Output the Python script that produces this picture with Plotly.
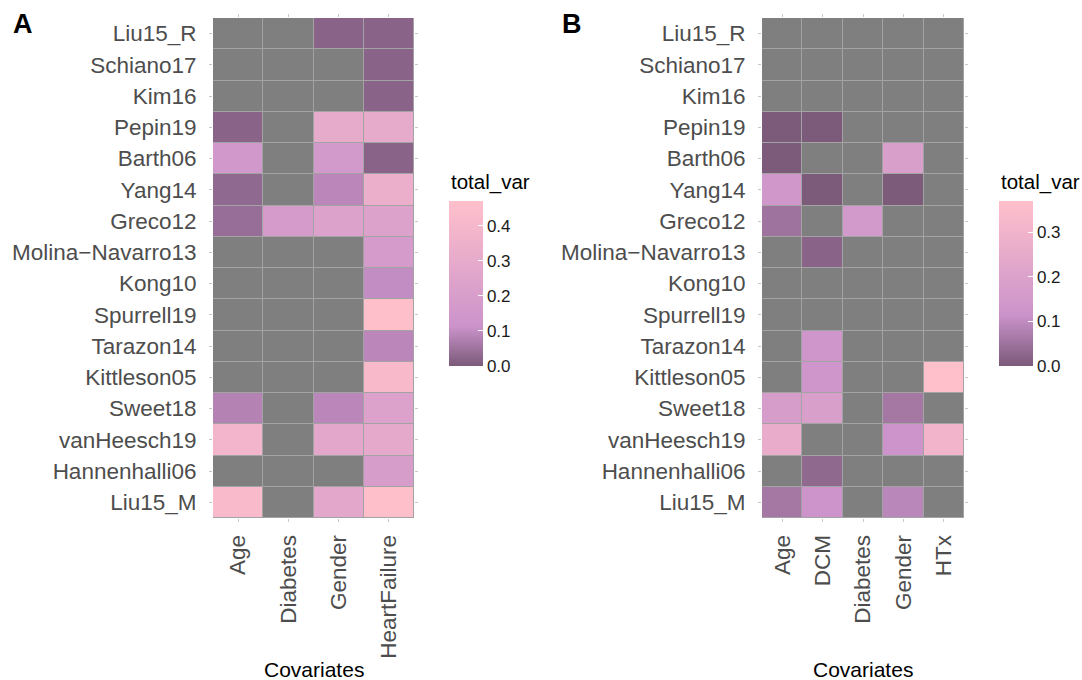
import plotly.graph_objects as go

studies = ["Liu15_R", "Schiano17", "Kim16", "Pepin19", "Barth06", "Yang14", "Greco12",
           "Molina\u2212Navarro13", "Kong10", "Spurrell19", "Tarazon14", "Kittleson05",
           "Sweet18", "vanHeesch19", "Hannenhalli06", "Liu15_M"]

covariates_a = ["Age", "Diabetes", "Gender", "HeartFailure"]
covariates_b = ["Age", "DCM", "Diabetes", "Gender", "HTx"]

N = None
# Panel A values (rows = studies, cols = covariates_a)
values_a = [
    [N, N, 0.02, 0.02],
    [N, N, N, 0.02],
    [N, N, N, 0.02],
    [0.02, N, 0.30, 0.30],
    [0.15, N, 0.16, 0.02],
    [0.03, N, 0.09, 0.33],
    [0.04, 0.18, 0.23, 0.23],
    [N, N, N, 0.18],
    [N, N, N, 0.10],
    [N, N, N, 0.46],
    [N, N, N, 0.09],
    [N, N, N, 0.42],
    [0.08, N, 0.09, 0.23],
    [0.38, N, 0.27, 0.29],
    [N, N, N, 0.19],
    [0.43, N, 0.27, 0.46],
]

# Panel B values (rows = studies, cols = covariates_b)
values_b = [
    [N, N, N, N, N],
    [N, N, N, N, N],
    [N, N, N, N, N],
    [0.0, 0.0, N, N, N],
    [0.0, N, N, 0.18, N],
    [0.14, 0.0, N, 0.0, N],
    [0.05, N, 0.15, N, N],
    [N, 0.02, N, N, N],
    [N, N, N, N, N],
    [N, N, N, N, N],
    [N, 0.13, N, N, N],
    [N, 0.13, N, N, 0.37],
    [0.17, 0.18, N, 0.06, N],
    [0.26, N, N, 0.12, 0.30],
    [N, 0.03, N, N, N],
    [0.06, 0.12, N, 0.09, N],
]

zmax_a = 0.47
zmax_b = 0.37
ticks_a = [0.0, 0.1, 0.2, 0.3, 0.4]
ticks_b = [0.0, 0.1, 0.2, 0.3]

scale_a = [[0, "#7b5a7a"], [0.24, "#cb93cb"], [1, "#ffc0cb"]]
scale_b = [[0, "#7b5a7a"], [0.31, "#cb93cb"], [1, "#ffc0cb"]]

FONT = "Liberation Sans, Arial, Helvetica, sans-serif"
NA_COLOR = "#7f7f7f"
LINE_COLOR = "#a3a3a3"

fig = go.Figure()


def mask(vals):
    return [[1 if v is None else None for v in row] for row in vals]


def add_panel(vals, cols, zmax, scale, tickvals, xa, ya, cb_x):
    fig.add_trace(go.Heatmap(
        z=mask(vals), x=cols, y=studies, xaxis=xa, yaxis=ya,
        colorscale=[[0, NA_COLOR], [1, NA_COLOR]], showscale=False,
        xgap=1, ygap=1, hoverinfo="skip"))
    fig.add_trace(go.Heatmap(
        z=vals, x=cols, y=studies, xaxis=xa, yaxis=ya,
        colorscale=scale, zmin=0, zmax=zmax, xgap=1, ygap=1,
        colorbar=dict(
            x=cb_x, xanchor="left", y=0.583, yanchor="middle",
            len=165, lenmode="pixels", thickness=34, thicknessmode="pixels",
            outlinewidth=0, tickvals=tickvals, tickformat=".1f",
            ticks="inside", ticklen=5, tickcolor="white",
            tickfont=dict(family=FONT, size=17, color="#1a1a1a"),
            xpad=0, ypad=0)))


add_panel(values_a, covariates_a, zmax_a, scale_a, ticks_a, "x", "y", 449 / 1082)
add_panel(values_b, covariates_b, zmax_b, scale_b, ticks_b, "x2", "y2", 999 / 1082)

y_top = 1 - 18 / 680
y_bot = 1 - 518 / 680

axis_common = dict(
    ticks="outside", ticklen=3, tickcolor="#c8c8c8", mirror="ticks",
    showgrid=False, zeroline=False, showline=False,
    tickfont=dict(family=FONT, size=22.5, color="#4d4d4d"),
)

fig.update_layout(
    width=1082, height=680,
    margin=dict(l=0, r=0, t=0, b=0),
    paper_bgcolor="white", plot_bgcolor=LINE_COLOR,
    font=dict(family=FONT),
    xaxis=dict(domain=[213 / 1082, 414 / 1082], anchor="y", tickangle=-90,
               ticklabelstandoff=4, **axis_common),
    yaxis=dict(domain=[y_bot, y_top], anchor="x", autorange="reversed",
               ticklabelstandoff=8, **axis_common),
    xaxis2=dict(domain=[762 / 1082, 964 / 1082], anchor="y2", tickangle=-90,
                ticklabelstandoff=4, **axis_common),
    yaxis2=dict(domain=[y_bot, y_top], anchor="x2", autorange="reversed",
                ticklabelstandoff=8, **axis_common),
    showlegend=False,
)

ann = [
    dict(text="<b>A</b>", x=11 / 1082, y=1 - 24 / 680, xanchor="left", yanchor="middle",
         font=dict(size=27, color="black")),
    dict(text="<b>B</b>", x=560 / 1082, y=1 - 24 / 680, xanchor="left", yanchor="middle",
         font=dict(size=27, color="black")),
    dict(text="Covariates", x=313.5 / 1082, y=1 - 669 / 680, xanchor="center", yanchor="middle",
         font=dict(size=21, color="black")),
    dict(text="Covariates", x=863 / 1082, y=1 - 669 / 680, xanchor="center", yanchor="middle",
         font=dict(size=21, color="black")),
    dict(text="total_var", x=449 / 1082, y=1 - 182 / 680, xanchor="left", yanchor="middle",
         font=dict(size=20.5, color="black")),
    dict(text="total_var", x=999 / 1082, y=1 - 182 / 680, xanchor="left", yanchor="middle",
         font=dict(size=20.5, color="black")),
]
for a in ann:
    a.update(xref="paper", yref="paper", showarrow=False)
    a["font"]["family"] = FONT
fig.update_layout(annotations=ann)

fig.write_html("out.html")
